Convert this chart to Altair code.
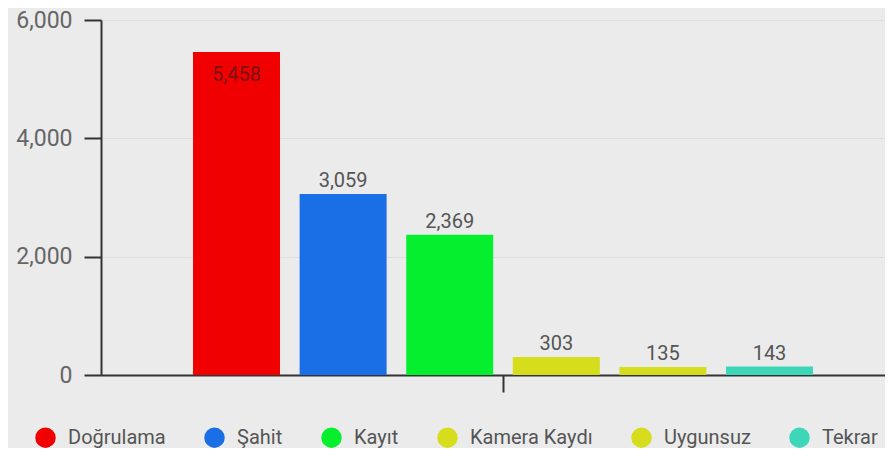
import altair as alt
import pandas as pd

categories = ["Doğrulama", "Şahit", "Kayıt", "Kamera Kaydı", "Uygunsuz", "Tekrar"]
values = [5458, 3059, 2369, 303, 135, 143]
colors = ["#f00000", "#1a6fe6", "#05ef2e", "#d5dd1c", "#d5dd1c", "#3ed6b8"]
y_ticks = [0, 2000, 4000, 6000]

df = pd.DataFrame({"kategori": categories, "deger": values, "grup": [""] * len(categories)})

FONT = "Roboto"

x_enc = alt.X(
    "grup:N",
    title=None,
    scale=alt.Scale(paddingInner=0, paddingOuter=0.1323, align=0.561),
    axis=alt.Axis(labels=False, domainColor="#333", domainWidth=2,
                  tickColor="#333", tickWidth=2, tickSize=17, grid=False),
)
xo_enc = alt.XOffset("kategori:N", sort=categories,
                     scale=alt.Scale(paddingInner=0.184, paddingOuter=0))
y_enc = alt.Y(
    "deger:Q",
    title=None,
    scale=alt.Scale(domain=[0, 6000], nice=False),
    axis=alt.Axis(values=y_ticks, format=",.0f", labelFont=FONT, labelFontSize=23,
                  labelColor="#666", labelPadding=12, tickSize=17, tickColor="#333",
                  tickWidth=2, domainColor="#333", domainWidth=2,
                  gridColor="#dedede", gridWidth=1),
)

base = alt.Chart(df)

bars = base.mark_bar().encode(
    x=x_enc,
    xOffset=xo_enc,
    y=y_enc,
    color=alt.Color(
        "kategori:N",
        sort=categories,
        scale=alt.Scale(domain=categories, range=colors),
        legend=alt.Legend(
            title=None, orient="none", direction="horizontal",
            legendX=-66, legendY=407, symbolType="circle", symbolSize=420,
            symbolStrokeWidth=0, symbolOpacity=1, labelFont=FONT, labelFontSize=20,
            labelColor="#555", labelOffset=12, columnPadding=38, padding=0,
        ),
    ),
)

labels_out = base.transform_filter("datum.deger < 5000").mark_text(
    font=FONT, fontSize=20, color="#555", baseline="alphabetic", dy=-7
).encode(x=x_enc, xOffset=xo_enc, y=y_enc, text=alt.Text("deger:Q", format=",.0f"))

labels_in = base.transform_filter("datum.deger >= 5000").mark_text(
    font=FONT, fontSize=20, color="#7a1212", baseline="middle", dy=23
).encode(x=x_enc, xOffset=xo_enc, y=y_enc, text=alt.Text("deger:Q", format=",.0f"))

chart = alt.layer(bars, labels_out, labels_in).properties(
    width=784,
    height=355,
    background="#ebebeb",
    autosize=alt.AutoSizeParams(type="none"),
    padding={"left": 93, "top": 12, "right": 0, "bottom": 73},
).configure_view(stroke=None)

chart.save("out.html", embed_options={"renderer": "svg", "actions": False})
